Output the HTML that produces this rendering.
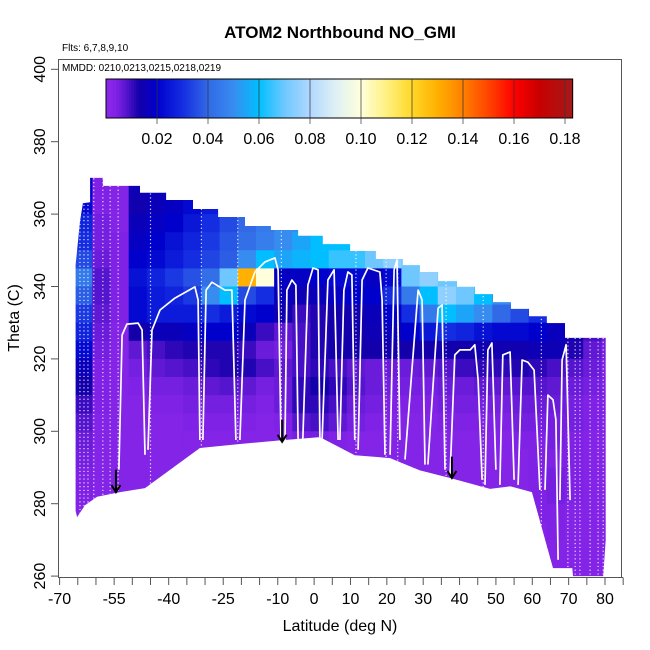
<!DOCTYPE html>
<html><head><meta charset="utf-8"><style>
html,body{margin:0;padding:0;background:#fff;}
svg{display:block;font-family:"Liberation Sans",Arial,sans-serif;}
</style></head><body>
<svg id="chart" width="650" height="650" viewBox="0 0 650 650">
<rect x="0" y="0" width="650" height="650" fill="#fff"/>
<text x="340" y="38" text-anchor="middle" font-size="17" font-weight="bold">ATOM2 Northbound NO_GMI</text>
<text x="62" y="51" font-size="10">Flts: 6,7,8,9,10</text>
<g id="plot"></g>
<rect x="58.5" y="59.5" width="563" height="518" fill="none" stroke="#555" stroke-width="1"/>
<text x="62" y="71" font-size="10">MMDD: 0210,0213,0215,0218,0219</text>
<g id="cbar"></g>
<g id="axes"></g>
<text x="340" y="631" text-anchor="middle" font-size="16">Latitude (deg N)</text>
<text transform="translate(19,318) rotate(-90)" text-anchor="middle" font-size="16">Theta (C)</text>
</svg>
<script>
// ---- data ----
const latEdges = [-66,-61,-56,-51,-46,-41,-36,-31,-26,-21,-16,-11,-6,-1,4,9,14,19,24,29,34,39,44,49,54,59,64,69,74,79,84];
const thetaTops = [375,370,365,360,355,350,345,340,335,330,325,320,315,310,305,300,295,290,285,280,275,270,265];
const thetaStep = 5;
const noValues = [
[.02,.004,.003,.015,.015,.02,.02,.02,.02,.02,.02,.02,.02,.02,.02,.02,.02,.02,.02,.02,.02,.02,.02,.02,.02,.02,.02,.02,.02,.02],
[.02,.004,.003,.015,.017,.02,.022,.025,.028,.03,.03,.03,.03,.03,.03,.03,.03,.03,.03,.03,.03,.03,.03,.03,.03,.03,.03,.03,.03,.03],
[.022,.004,.003,.014,.016,.018,.022,.026,.03,.035,.038,.04,.04,.04,.04,.04,.04,.04,.04,.04,.04,.04,.04,.04,.04,.04,.04,.04,.04,.04],
[.028,.005,.003,.016,.018,.02,.025,.03,.035,.04,.045,.05,.05,.05,.055,.055,.055,.055,.055,.055,.055,.055,.055,.055,.055,.055,.055,.055,.055,.055],
[.03,.005,.004,.018,.02,.024,.028,.032,.037,.042,.046,.05,.055,.06,.06,.06,.062,.065,.065,.065,.065,.065,.065,.065,.065,.065,.065,.065,.065,.065],
[.035,.006,.004,.02,.022,.026,.03,.034,.038,.05,.06,.055,.058,.06,.065,.065,.07,.075,.07,.07,.07,.07,.07,.07,.07,.07,.07,.07,.07,.07],
[.045,.008,.004,.024,.028,.032,.036,.042,.07,.13,.1,.018,.018,.02,.022,.022,.018,.022,.07,.075,.07,.07,.065,.065,.065,.065,.065,.065,.065,.065],
[.038,.008,.004,.022,.026,.028,.032,.05,.06,.035,.03,.016,.015,.016,.018,.02,.02,.03,.045,.06,.075,.07,.06,.05,.045,.04,.04,.04,.04,.04],
[.032,.007,.004,.022,.026,.026,.026,.03,.026,.022,.02,.014,.01,.012,.013,.014,.016,.02,.03,.045,.06,.055,.05,.04,.035,.03,.03,.03,.03,.03],
[.028,.006,.003,.013,.016,.016,.018,.02,.02,.016,.01,.007,.009,.012,.013,.013,.015,.016,.02,.025,.03,.028,.024,.022,.022,.02,.017,.013,.009,.006],
[.022,.005,.003,.007,.009,.011,.012,.012,.012,.01,.006,.005,.009,.012,.013,.013,.013,.013,.013,.013,.013,.013,.014,.014,.014,.015,.015,.012,.007,.005],
[.016,.004,.003,.005,.007,.008,.009,.011,.012,.012,.009,.007,.009,.011,.009,.007,.006,.006,.006,.007,.008,.01,.011,.011,.012,.011,.009,.008,.006,.004],
[.013,.004,.003,.004,.005,.005,.006,.007,.008,.007,.005,.006,.011,.013,.011,.008,.006,.005,.005,.005,.006,.006,.007,.007,.008,.008,.007,.006,.005,.004],
[.01,.004,.003,.003,.004,.004,.005,.005,.005,.005,.004,.006,.011,.011,.009,.006,.005,.004,.004,.004,.005,.005,.005,.005,.006,.006,.006,.005,.004,.004],
[.008,.003,.003,.003,.003,.003,.004,.004,.004,.004,.003,.004,.008,.009,.007,.005,.004,.003,.003,.003,.004,.004,.004,.004,.005,.005,.005,.005,.004,.003],
[.006,.003,.003,.003,.003,.003,.003,.003,.003,.003,.003,.003,.005,.005,.004,.003,.003,.003,.003,.003,.003,.003,.003,.003,.004,.004,.005,.004,.003,.003],
[.005,.003,.003,.003,.003,.003,.003,.003,.003,.003,.003,.003,.003,.003,.003,.003,.003,.003,.003,.003,.003,.003,.003,.003,.003,.004,.004,.004,.003,.003],
[.004,.003,.003,.003,.003,.003,.003,.003,.003,.003,.003,.003,.003,.003,.003,.003,.003,.003,.003,.003,.003,.003,.003,.003,.003,.004,.005,.004,.003,.003],
[.004,.003,.003,.003,.003,.003,.003,.003,.003,.003,.003,.003,.003,.003,.003,.003,.003,.003,.003,.003,.003,.003,.003,.003,.003,.004,.005,.004,.003,.003],
[.003,.003,.003,.003,.003,.003,.003,.003,.003,.003,.003,.003,.003,.003,.003,.003,.003,.003,.003,.003,.003,.003,.003,.003,.003,.004,.004,.003,.003,.003],
[.003,.003,.003,.003,.003,.003,.003,.003,.003,.003,.003,.003,.003,.003,.003,.003,.003,.003,.003,.003,.003,.003,.003,.003,.003,.003,.004,.003,.003,.003],
[.003,.003,.003,.003,.003,.003,.003,.003,.003,.003,.003,.003,.003,.003,.003,.003,.003,.003,.003,.003,.003,.003,.003,.003,.003,.003,.003,.003,.003,.003],
[.003,.003,.003,.003,.003,.003,.003,.003,.003,.003,.003,.003,.003,.003,.003,.003,.003,.003,.003,.003,.003,.003,.003,.003,.003,.003,.003,.003,.003,.003]
];
const domainTop = [[-65.6,346],[-65.2,350],[-64.4,358],[-63.6,363],[-61.6,363.3],[-61.6,370],[-58.1,370],[-58.1,367.8],[-47.9,367.8],[-47.9,365.9],[-40.7,365.9],[-40.7,363.9],[-33.3,363.9],[-33.3,361.4],[-26.4,361.4],[-26.4,359.2],[-19,359.2],[-19,356.7],[-11.9,356.7],[-11.9,355.6],[-4.4,355.6],[-4.4,354],[2.4,354],[2.4,351.7],[9.9,351.7],[9.9,349.8],[17,349.8],[17,347.6],[24.4,347.6],[24.4,345.9],[29.1,345.9],[29.1,344],[34.1,344],[34.1,341.5],[39.3,341.5],[39.3,339.9],[44.2,339.9],[44.2,337.9],[49.2,337.9],[49.2,335.7],[54.1,335.7],[54.1,333.8],[59.1,333.8],[59.1,331.8],[64,331.8],[64,329.9],[69,329.9],[69,325.8],[80.2,325.8]];
const domainBottom = [[80.2,270],[79.5,260],[71.2,260],[71,262.2],[65.7,262.2],[59.9,283.2],[53.9,284.8],[48.4,284.1],[37.4,287.1],[29.1,289.2],[20.9,292.6],[11.2,293.4],[1.6,298.4],[-9.4,297.5],[-20.4,296.5],[-31.4,295.4],[-46.5,284.3],[-53.4,283.2],[-59.7,281.9],[-63,279.6],[-65.2,276.3],[-65.6,278]];
const profiles = [
[[-53.7,289.4],[-52.8,326.6],[-51.5,329.6],[-48.4,329.9],[-47.3,328.0],[-46.5,293.5]],
[[-45.7,294.9],[-44.6,328.0],[-42.4,333.5],[-38.3,336.8],[-32.8,339.9],[-31.9,336.3],[-31.4,297.6]],
[[-30.6,297.6],[-29.7,339.0],[-28.1,341.2],[-24.5,339.0],[-22.6,339.0],[-21.5,297.6]],
[[-20.4,297.6],[-19.0,336.3],[-16.3,344.0],[-13.5,346.8],[-10.8,347.9],[-9.9,344.6],[-9.1,297.6]],
[[-8.0,297.6],[-7.5,339.0],[-6.1,341.8],[-5.0,340.4],[-4.4,297.6]],
[[-3.1,297.6],[-1.7,340.4],[-0.3,345.1],[1.1,344.6],[1.6,297.6]],
[[2.2,297.6],[3.8,341.8],[5.5,344.6],[6.6,297.6]],
[[7.1,297.6],[8.2,339.0],[9.3,344.0],[10.4,343.2],[11.2,297.6]],
[[12.1,294.9],[13.2,341.8],[14.8,345.1],[18.1,344.0],[18.7,336.3],[19.5,293.5]],
[[20.9,293.5],[22.0,344.6],[22.8,347.3],[23.6,297.6]],
[[25.0,292.2],[28.6,339.0],[29.7,336.3],[30.5,290.8]],
[[31.3,290.8],[34.1,334.0],[35.2,334.9],[36.0,289.4]],
[[37.4,288.0],[38.7,321.1],[40.1,322.5],[42.9,322.5],[44.2,323.9],[45.1,314.2],[46.2,286.6]],
[[47.0,285.2],[47.8,322.5],[48.9,324.4],[50.0,289.4]],
[[51.1,285.2],[51.9,321.1],[53.9,321.9],[55.0,286.6]],
[[56.1,285.2],[57.2,319.7],[58.8,319.1],[60.5,316.9],[62.1,283.8]],
[[63.5,283.8],[64.3,310.0],[65.7,308.7],[66.5,303.2],[67.1,264.5]],
[[67.6,281.0],[68.2,319.7],[69.3,323.9],[70.4,281.0]]
];
const dottedLats = [-64.4,-63.3,-62.2,-60.6,-58.1,-56.1,-53.9,-45.0,-31.0,-21.0,-9.0,11.5,19.8,23.0,36.3,46.5,62.5,69.8,71.8,73.1,75.9,78.1,79.5];
const arrowLats = [-54.5,-8.8,37.9];
const arrowTop = [289.4,303.2,293.0];
const arrowBottom = [283.2,297.1,287.1];
const xTicks = [-70,-55,-40,-25,-10,0,10,20,30,40,50,60,70,80];
const yTicks = [260,280,300,320,340,360,380,400];
const cbTicks = [0.02,0.04,0.06,0.08,0.10,0.12,0.14,0.16,0.18];
const cbMax = 0.183;

// ---- scales ----
const NS='http://www.w3.org/2000/svg';
function xs(lat){return 59.6+(lat+70)*3.636;}
function ys(th){return 69.3+(400-th)*3.62;}
function cbx(v){return 106+v/0.02*51;}
const stops=[[0,[140,40,235]],[0.004,[128,34,230]],[0.008,[85,20,205]],[0.013,[20,0,170]],[0.02,[0,0,205]],[0.03,[20,45,225]],[0.04,[50,105,230]],[0.05,[55,140,240]],[0.06,[0,190,255]],[0.07,[110,200,255]],[0.08,[176,216,255]],[0.09,[222,240,244]],[0.1,[255,255,220]],[0.11,[255,240,130]],[0.12,[255,216,40]],[0.13,[255,176,0]],[0.14,[255,128,0]],[0.15,[255,68,0]],[0.16,[255,0,0]],[0.17,[200,0,0]],[0.183,[165,25,25]]];
function col(v){
  if(v<=stops[0][0])return 'rgb('+stops[0][1]+')';
  for(let i=1;i<stops.length;i++){
    if(v<=stops[i][0]){const a=stops[i-1],b=stops[i];const t=(v-a[0])/(b[0]-a[0]);
      return 'rgb('+a[1].map((c,k)=>Math.round(c+(b[1][k]-c)*t)).join(',')+')';}
  }
  return 'rgb('+stops[stops.length-1][1]+')';
}
function mk(tag,attrs,parent){const e=document.createElementNS(NS,tag);for(const k in attrs)e.setAttribute(k,attrs[k]);parent.appendChild(e);return e;}

const svg=document.getElementById('chart');
const plot=document.getElementById('plot');
const defs=mk('defs',{},svg);
const cp=mk('clipPath',{id:'domclip'},defs);
const poly=domainTop.concat(domainBottom).map(p=>xs(p[0]).toFixed(1)+','+ys(p[1]).toFixed(1)).join(' ');
mk('polygon',{points:poly},cp);
const g=mk('g',{'clip-path':'url(#domclip)'},plot);


for(let r=0;r<noValues.length;r++){
  for(let c=0;c<noValues[r].length;c++){
    const x0=xs(latEdges[c]),x1=xs(latEdges[c+1]);
    const y0=ys(thetaTops[r]),y1=ys(thetaTops[r]-thetaStep);
    const e=mk('rect',{x:x0.toFixed(2),y:y0.toFixed(2),width:(x1-x0+0.6).toFixed(2),height:(y1-y0+0.6).toFixed(2),fill:col(noValues[r][c])},g);
    
    
  }
}
dottedLats.forEach(l=>{
  const e=mk('line',{x1:xs(l),x2:xs(l),y1:ys(372),y2:ys(258),stroke:'#fff','stroke-width':1.2,'stroke-opacity':0.85,'stroke-dasharray':'1.2 2.6'},g);
  
  
});
profiles.forEach(p=>{
  const e=mk('polyline',{points:p.map(q=>xs(q[0]).toFixed(1)+','+ys(q[1]).toFixed(1)).join(' '),fill:'none',stroke:'#fff','stroke-width':1.7,'stroke-linejoin':'round'},g);
  
  
});
arrowLats.forEach((l,i)=>{
  const x=xs(l),yt=ys(arrowTop[i]),yb=ys(arrowBottom[i]);
  const e=mk('path',{d:'M'+x+','+yt+'L'+x+','+yb+'M'+(x-4.5)+','+(yb-7)+'L'+x+','+yb+'L'+(x+4.5)+','+(yb-7),fill:'none',stroke:'#000','stroke-width':2},plot);
  
  
});
const ax=document.getElementById('axes');
mk('line',{x1:59.6,x2:623,y1:577.5,y2:577.5,stroke:'#555','stroke-width':1},ax);
for(let l=-70;l<=85;l+=5){mk('line',{x1:xs(l),x2:xs(l),y1:577.5,y2:585,stroke:'#555','stroke-width':1},ax);}
xTicks.forEach(t=>{
  const e=mk('text',{x:xs(t),y:604,'text-anchor':'middle','font-size':16},ax);e.textContent=t;
  
  
});
yTicks.forEach(t=>{
  mk('line',{x1:51,x2:58.5,y1:ys(t),y2:ys(t),stroke:'#555','stroke-width':1},ax);
  const e=mk('text',{transform:'translate(45,'+ys(t)+') rotate(-90)','text-anchor':'middle','font-size':16},ax);e.textContent=t;
  
  
});
const cb=document.getElementById('cbar');
for(let v=0;v<cbMax;v+=0.001){
  const x0=cbx(v);
  mk('rect',{x:x0.toFixed(2),y:79,width:(cbx(0.001)-cbx(0)+0.4).toFixed(2),height:39,fill:col(v+0.0005)},cb);
}
mk('rect',{x:cbx(0),y:79,width:cbx(cbMax)-cbx(0),height:39,fill:'none',stroke:'#000','stroke-width':1},cb);
cbTicks.forEach(t=>{
  mk('line',{x1:cbx(t),x2:cbx(t),y1:79,y2:124,stroke:'#333','stroke-opacity':0.7,'stroke-width':1},cb);
  const e=mk('text',{x:cbx(t),y:144,'text-anchor':'middle','font-size':16},cb);e.textContent=t.toFixed(2);
  
  
});
</script>
</body></html>
